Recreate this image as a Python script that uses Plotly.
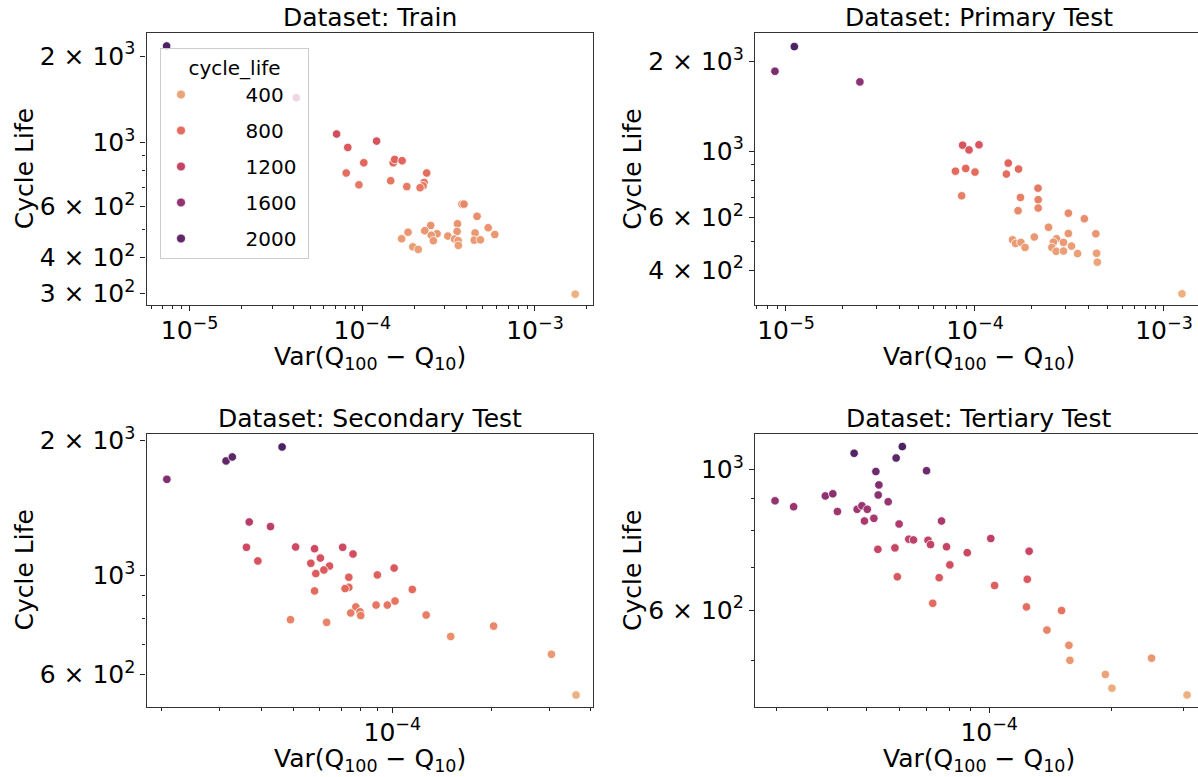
import plotly.graph_objects as go

# ---------------- data ----------------
train_var = [7.36e-6, 4.15e-5, 7.1e-5, 1.21e-4, 8.24e-5, 1.02e-4, 1.51e-4, 1.54e-4, 1.70e-4, 8.07e-5,
             2.36e-4, 9.56e-5, 1.46e-4, 1.81e-4, 2.28e-4, 2.25e-4, 2.16e-4, 3.78e-4, 3.88e-4, 4.62e-4,
             2.49e-4, 3.56e-4, 3.54e-4, 5.36e-4, 2.30e-4, 2.71e-4, 1.84e-4, 1.69e-4, 2.51e-4, 2.58e-4,
             3.13e-4, 3.42e-4, 3.59e-4, 3.60e-4, 4.50e-4, 4.45e-4, 4.83e-4, 5.85e-4, 1.96e-4, 2.11e-4,
             1.71e-3]
train_life = [2168, 1433, 1072, 1013, 963, 852, 852, 875, 866, 785,
              785, 714, 738, 704, 728, 709, 698, 612, 612, 555,
              516, 523, 492, 507, 495, 483, 489, 464, 477, 457,
              474, 463, 457, 440, 486, 459, 460, 480, 435, 426,
              298]

primary_var = [8.74e-6, 1.107e-5, 2.46e-5, 8.6e-5, 9.3e-5, 1.05e-4, 7.88e-5, 8.93e-5, 1.0e-4, 8.5e-5,
               1.50e-4, 1.466e-4, 1.70e-4, 2.155e-4, 1.74e-4, 2.16e-4, 2.16e-4, 1.69e-4, 3.12e-4, 3.79e-4,
               2.45e-4, 3.12e-4, 4.36e-4, 1.58e-4, 1.64e-4, 1.75e-4, 2.06e-4, 1.84e-4, 2.70e-4, 2.60e-4,
               2.55e-4, 2.69e-4, 2.94e-4, 2.94e-4, 3.24e-4, 3.49e-4, 4.40e-4, 4.44e-4, 1.245e-3]
primary_life = [1852, 2239, 1706, 1047, 1010, 1050, 857, 875, 851, 709,
                912, 838, 871, 752, 700, 688, 645, 632, 620, 594,
                556, 530, 529, 505, 491, 495, 516, 476, 509, 496,
                476, 462, 495, 463, 481, 454, 455, 425, 333]

secondary_var = [2.07e-5, 3.13e-5, 3.27e-5, 4.63e-5, 3.68e-5, 4.27e-5, 3.61e-5, 3.91e-5, 5.09e-5, 5.81e-5,
                 6.05e-5, 5.66e-5, 6.45e-5, 6.20e-5, 5.86e-5, 7.07e-5, 7.60e-5, 7.38e-5, 5.81e-5, 7.38e-5,
                 7.19e-5, 9.01e-5, 1.013e-4, 1.15e-4, 7.75e-5, 7.48e-5, 7.98e-5, 8.02e-5, 8.93e-5, 9.66e-5,
                 1.019e-4, 1.267e-4, 4.91e-5, 6.32e-5, 1.504e-4, 2.03e-4, 3.04e-4, 3.61e-4]
secondary_life = [1639, 1802, 1839, 1936, 1316, 1285, 1155, 1077, 1157, 1147,
                  1093, 1064, 1049, 1028, 1009, 1155, 1116, 990, 923, 940,
                  934, 1002, 1038, 930, 850, 824, 829, 813, 858, 858,
                  876, 815, 796, 785, 730, 770, 666, 540]

tertiary_var = [2.97e-5, 3.30e-5, 3.95e-5, 4.12e-5, 4.23e-5, 4.65e-5, 5.26e-5, 5.35e-5, 5.33e-5, 5.90e-5,
                6.11e-5, 7.01e-5, 5.64e-5, 4.73e-5, 4.86e-5, 5.01e-5, 4.93e-5, 5.20e-5, 6.00e-5, 7.63e-5,
                6.34e-5, 6.51e-5, 7.07e-5, 7.17e-5, 5.32e-5, 5.86e-5, 7.85e-5, 8.83e-5, 1.009e-4, 1.254e-4,
                8.0e-5, 5.94e-5, 7.53e-5, 1.031e-4, 1.241e-4, 7.26e-5, 1.235e-4, 1.507e-4, 1.387e-4, 1.571e-4,
                1.58e-4, 1.932e-4, 2.005e-4, 2.51e-4, 3.07e-4]
tertiary_life = [892, 873, 908, 915, 858, 1060, 992, 945, 911, 1042,
                 1086, 995, 889, 865, 876, 865, 829, 837, 820, 829,
                 776, 774, 773, 761, 748, 752, 755, 739, 778, 743,
                 707, 677, 675, 656, 671, 615, 607, 599, 558, 528,
                 500, 475, 452, 504, 441]

dataset_names = ["Train", "Primary Test", "Secondary Test", "Tertiary Test"]
legend_levels = [400, 800, 1200, 1600, 2000]

x_major_vals = [1e-5, 1e-4, 1e-3]
x_major_text = ["10<sup>\u22125</sup>", "10<sup>\u22124</sup>", "10<sup>\u22123</sup>"]
y_major_vals = [300, 400, 600, 1000, 2000]
y_major_text = ["3 \u00d7 10<sup>2</sup>", "4 \u00d7 10<sup>2</sup>", "6 \u00d7 10<sup>2</sup>",
                "10<sup>3</sup>", "2 \u00d7 10<sup>3</sup>"]

# ---------------- styling ----------------
W, H = 1198, 777
FONT = "DejaVu Sans"
flare = [[0.0, "#edb081"], [1/7, "#e98d6b"], [2/7, "#e3685c"], [3/7, "#d14a61"],
         [4/7, "#b13c6c"], [5/7, "#8f3371"], [6/7, "#6c2b6d"], [1.0, "#4b2362"]]


def sample_scale(t):
    t = min(max(t, 0.0), 1.0)
    for (t0, c0), (t1, c1) in zip(flare[:-1], flare[1:]):
        if t0 <= t <= t1:
            f = (t - t0) / (t1 - t0)
            a = [int(c0[i:i + 2], 16) for i in (1, 3, 5)]
            b = [int(c1[i:i + 2], 16) for i in (1, 3, 5)]
            return "rgb(%d,%d,%d)" % tuple(round(a[k] + (b[k] - a[k]) * f) for k in range(3))
    return flare[-1][1]


# pixel geometry of the four axes boxes: (left, right, top, bottom)
boxes = [(146.5, 593, 33.3, 305), (755, 1198, 33.3, 305),
         (146.5, 593, 434.3, 706.7), (755, 1198, 434.3, 706.7)]
x_ranges = [(-5.2496, -2.664), (-5.164, -2.820), (-4.7458, -3.391), (-4.5766, -3.486)]
y_ranges = [(2.4365, 3.380), (2.485, 3.3946), (2.7064, 3.3152), (2.6259, 3.0552)]

datasets = [(train_var, train_life), (primary_var, primary_life),
            (secondary_var, secondary_life), (tertiary_var, tertiary_life)]

fig = go.Figure()
layout = {}
annotations = []


def minor_vals(lo, hi):
    out = []
    for e in range(-7, 5):
        for m in range(2, 10):
            v = m * 10.0 ** e
            if lo <= v <= hi:
                out.append(v)
    return out


for i, ((xv, yv), name, (l, r, t, b), xr, yr) in enumerate(
        zip(datasets, dataset_names, boxes, x_ranges, y_ranges)):
    k = "" if i == 0 else str(i + 1)
    fig.add_trace(go.Scatter(
        x=xv, y=yv, mode="markers", xaxis="x" + k, yaxis="y" + k, showlegend=False,
        marker=dict(size=8.5, color=yv, colorscale=flare, cmin=min(yv), cmax=max(yv),
                    line=dict(color="white", width=0.8)),
    ))
    xlo, xhi = 10 ** xr[0], 10 ** xr[1]
    ylo, yhi = 10 ** yr[0], 10 ** yr[1]
    xmaj = [(v, s) for v, s in zip(x_major_vals, x_major_text) if xlo <= v <= xhi]
    ymaj = [(v, s) for v, s in zip(y_major_vals, y_major_text) if ylo <= v <= yhi]
    xmin_ = [v for v in minor_vals(xlo, xhi) if v not in x_major_vals]
    ymin_ = [v for v in minor_vals(ylo, yhi) if v not in y_major_vals]
    right_col = i in (1, 3)
    layout["xaxis" + k] = dict(
        type="log", range=list(xr), domain=[l / W, r / W], anchor="y" + k, automargin=False,
        tickmode="array", tickvals=[v for v, _ in xmaj], ticktext=[s for _, s in xmaj],
        ticks="outside", ticklen=5, tickwidth=1, tickcolor="#222",
        minor=dict(tickmode="array", tickvals=xmin_, ticks="outside", ticklen=3, tickwidth=0.8,
                   tickcolor="#222", showgrid=False),
        showline=True, linecolor="#333", linewidth=1.2, mirror=True,
        showgrid=False, zeroline=False, ticklabelstandoff=-2,
        tickfont=dict(family=FONT, size=25, color="black"),
    )
    layout["yaxis" + k] = dict(
        type="log", range=list(yr), domain=[1 - b / H, 1 - t / H], anchor="x" + k, automargin=False,
        tickmode="array", tickvals=[v for v, _ in ymaj], ticktext=[s for _, s in ymaj],
        ticks="outside", ticklen=5, tickwidth=1, tickcolor="#222",
        minor=dict(tickmode="array", tickvals=ymin_, ticks="outside", ticklen=3, tickwidth=0.8,
                   tickcolor="#222", showgrid=False),
        showline=True, linecolor="#333", linewidth=1.2, mirror=(not right_col),
        showgrid=False, zeroline=False,
        tickfont=dict(family=FONT, size=25, color="black"),
    )
    cx = (l + (r if not right_col else l + 447)) / 2
    # subplot title
    annotations.append(dict(text="Dataset: " + name, x=cx / W, y=1 - (t - 16) / H,
                            xref="paper", yref="paper", showarrow=False, xanchor="center",
                            yanchor="middle", font=dict(family=FONT, size=25, color="black")))
    # x label
    annotations.append(dict(text="Var(Q<sub>100</sub> \u2212 Q<sub>10</sub>)", x=cx / W,
                            y=1 - (b + 53) / H, xref="paper", yref="paper", showarrow=False,
                            xanchor="center", yanchor="middle",
                            font=dict(family=FONT, size=25, color="black")))
    # y label
    annotations.append(dict(text="Cycle Life", x=(l - 122.5) / W, y=1 - ((t + b) / 2) / H,
                            xref="paper", yref="paper", showarrow=False, textangle=-90,
                            xanchor="center", yanchor="middle",
                            font=dict(family=FONT, size=25, color="black")))

# legend (hue levels coloured with the Train panel's normalisation)
tmin, tmax = min(train_life), max(train_life)
for j, lvl in enumerate(legend_levels):
    fig.add_trace(go.Scatter(
        x=[None], y=[None], mode="markers", name="\u00a0" * 7 + str(lvl) + "\u00a0",
        legendgroup="g%d" % j,
        marker=dict(size=9, color=sample_scale((lvl - tmin) / (tmax - tmin)),
                    line=dict(color="white", width=0.8)),
        xaxis="x", yaxis="y", showlegend=True))

fig.update_layout(
    width=W, height=H, margin=dict(l=0, r=0, t=0, b=0, autoexpand=False),
    paper_bgcolor="white", plot_bgcolor="white",
    font=dict(family=FONT, color="black"),
    annotations=annotations,
    showlegend=True,
    legend=dict(x=160 / W, y=1 - 48 / H, xanchor="left", yanchor="top",
                bgcolor="rgba(255,255,255,0.8)", bordercolor="#cccccc", borderwidth=1,
                font=dict(family=FONT, size=20, color="black"),
                title=dict(text="cycle_life", side="top center",
                           font=dict(family=FONT, size=20, color="black")),
                traceorder="grouped", tracegroupgap=7, itemwidth=30),
    **layout,
)

fig.write_html("out.html", config={"displayModeBar": False},
               post_script="document.body.style.margin='0';document.body.style.overflow='hidden';")
